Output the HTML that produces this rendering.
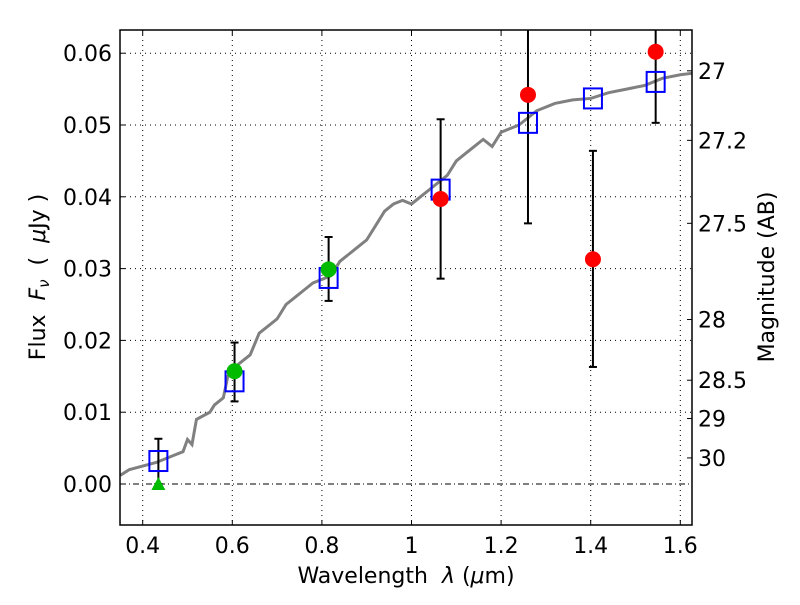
<!DOCTYPE html>
<html><head><meta charset="utf-8"><style>
body{margin:0;background:#fff}
svg text{font-family:"DejaVu Sans","Liberation Sans",sans-serif;fill:#000}
</style></head><body>
<svg id="c" width="800" height="600" xmlns="http://www.w3.org/2000/svg"></svg>
<script>
const xTicks=[0.4,0.6,0.8,1.0,1.2,1.4,1.6];
const xTickLabels=["0.4","0.6","0.8","1","1.2","1.4","1.6"];
const yTicks=[0,0.01,0.02,0.03,0.04,0.05,0.06];
const yTickLabels=["0.00","0.01","0.02","0.03","0.04","0.05","0.06"];
const magTicks=[27,27.2,27.5,28,28.5,29,30];
const magTickLabels=["27","27.2","27.5","28","28.5","29","30"];
const specWave=[0.35,0.37,0.40,0.43,0.45,0.47,0.49,0.50,0.51,0.52,0.55,0.56,0.58,0.59,0.60,0.62,0.64,0.66,0.68,0.70,0.72,0.74,0.76,0.78,0.80,0.82,0.84,0.86,0.88,0.90,0.92,0.94,0.96,0.98,1.0,1.02,1.04,1.06,1.08,1.10,1.12,1.14,1.16,1.18,1.20,1.24,1.28,1.32,1.36,1.40,1.44,1.48,1.52,1.56,1.60,1.626];
const specFlux=[0.0012,0.002,0.0025,0.003,0.0035,0.004,0.0045,0.0062,0.0055,0.009,0.010,0.011,0.012,0.015,0.016,0.017,0.018,0.021,0.022,0.023,0.025,0.026,0.027,0.028,0.0285,0.029,0.031,0.032,0.033,0.034,0.036,0.038,0.039,0.0395,0.039,0.040,0.041,0.042,0.043,0.045,0.046,0.047,0.048,0.047,0.049,0.050,0.052,0.053,0.0535,0.0537,0.0545,0.055,0.0555,0.0565,0.057,0.0572];
const modelWave=[0.435,0.605,0.815,1.065,1.26,1.405,1.545];
const modelFlux=[0.0032,0.0143,0.0287,0.0410,0.0503,0.0537,0.0560];
const greenWave=[0.605,0.815];
const greenFlux=[0.0157,0.0299];
const greenLo=[0.0115,0.0255];
const greenHi=[0.0197,0.0344];
const redWave=[1.065,1.26,1.405,1.545];
const redFlux=[0.0397,0.0542,0.0313,0.0602];
const redLo=[0.0286,0.0363,0.0163,0.0503];
const redHi=[0.0508,0.07,0.0464,0.07];
const limWave=[0.435];
const limFlux=[0.0];
const limHi=[0.0063];

const L=120,R=692,T=30,B=525;
const X=v=>142.7+(v-0.4)*448;
const Y=v=>484-v*7180;
const ns="http://www.w3.org/2000/svg";
const svg=document.getElementById('c');
function mk(t,a,p){const e=document.createElementNS(ns,t);for(const k in a)e.setAttribute(k,a[k]);(p||svg).appendChild(e);return e;}
const clip=mk('clipPath',{id:'cp'});mk('rect',{x:L,y:T,width:R-L,height:B-T},clip);
const g=mk('g',{'clip-path':'url(#cp)'});
xTicks.forEach((v,i)=>{
 const l=mk('line',{x1:X(v),x2:X(v),y1:T,y2:B,stroke:'#000','stroke-width':1,'stroke-dasharray':'1,4'},g);
 
 
 mk('line',{x1:X(v),x2:X(v),y1:B,y2:B-5,stroke:'#000'});
 mk('line',{x1:X(v),x2:X(v),y1:T,y2:T+5,stroke:'#000'});
 const t=mk('text',{x:X(v),y:B+28,'text-anchor':'middle','font-size':22});t.textContent=xTickLabels[i];
 
 
});
yTicks.forEach((v,i)=>{
 const l=mk('line',{x1:L,x2:R,y1:Y(v),y2:Y(v),stroke:'#000','stroke-width':1,'stroke-dasharray':v===0?'6,3,1,3':'1,4'},g);
 
 
 mk('line',{x1:L,x2:L+5,y1:Y(v),y2:Y(v),stroke:'#000'});
 const t=mk('text',{x:L-8,y:Y(v)+8,'text-anchor':'end','font-size':22});t.textContent=yTickLabels[i];
 
 
});
magTicks.forEach((m,i)=>{
 const y=Y(Math.pow(10,(23.9-m)/2.5));
 mk('line',{x1:R,x2:R-5,y1:y,y2:y,stroke:'#000'});
 const t=mk('text',{x:R+6,y:y+8,'font-size':22});t.textContent=magTickLabels[i];
 
 
});
const sp=mk('polyline',{points:specWave.map((w,i)=>X(w)+','+Y(specFlux[i])).join(' '),fill:'none',stroke:'#808080','stroke-width':3},g);


function err(x,lo,hi){mk('line',{x1:X(x),x2:X(x),y1:Y(lo),y2:Y(hi),stroke:'#000','stroke-width':2},g);
 [lo,hi].forEach(v=>mk('line',{x1:X(x)-4,x2:X(x)+4,y1:Y(v),y2:Y(v),stroke:'#000','stroke-width':2},g));}
limWave.forEach((w,i)=>err(w,limFlux[i],limHi[i]));
greenWave.forEach((w,i)=>err(w,greenLo[i],greenHi[i]));
redWave.forEach((w,i)=>err(w,redLo[i],redHi[i]));
modelWave.forEach((w,i)=>{const r=mk('rect',{x:X(w)-9,y:Y(modelFlux[i])-10,width:18,height:20,fill:'none',stroke:'#00f','stroke-width':2},g);
 
 });
greenWave.forEach((w,i)=>{const c=mk('circle',{cx:X(w),cy:Y(greenFlux[i]),r:8,fill:'#0b0'},g);
 
 });
limWave.forEach((w,i)=>{const x=X(w),y=Y(limFlux[i]);const p=mk('polygon',{points:`${x},${y-7} ${x-7},${y+6} ${x+7},${y+6}`,fill:'#0b0'},g);
 
 });
redWave.forEach((w,i)=>{const c=mk('circle',{cx:X(w),cy:Y(redFlux[i]),r:8,fill:'#f00'},g);
 
 });
const fr=mk('rect',{x:L,y:T,width:R-L,height:B-T,fill:'none',stroke:'#000','stroke-width':1.5});


</script>
<svg width="800" height="600" style="position:absolute;left:0;top:0" xmlns="http://www.w3.org/2000/svg">
<text x="406" y="583" text-anchor="middle" font-size="22" xml:space="preserve">Wavelength  <tspan font-style="italic">λ</tspan> (<tspan font-style="italic">μ</tspan>m)</text>
<text transform="translate(45,277) rotate(-90)" text-anchor="middle" font-size="22" xml:space="preserve">Flux  <tspan font-style="italic">F</tspan><tspan font-style="italic" font-size="15" dy="4">ν</tspan><tspan dy="-4">  (  </tspan><tspan font-style="italic">μ</tspan>Jy )</text>
<text transform="translate(774,277) rotate(-90)" text-anchor="middle" font-size="22">Magnitude (AB)</text>
</svg>
</body></html>
